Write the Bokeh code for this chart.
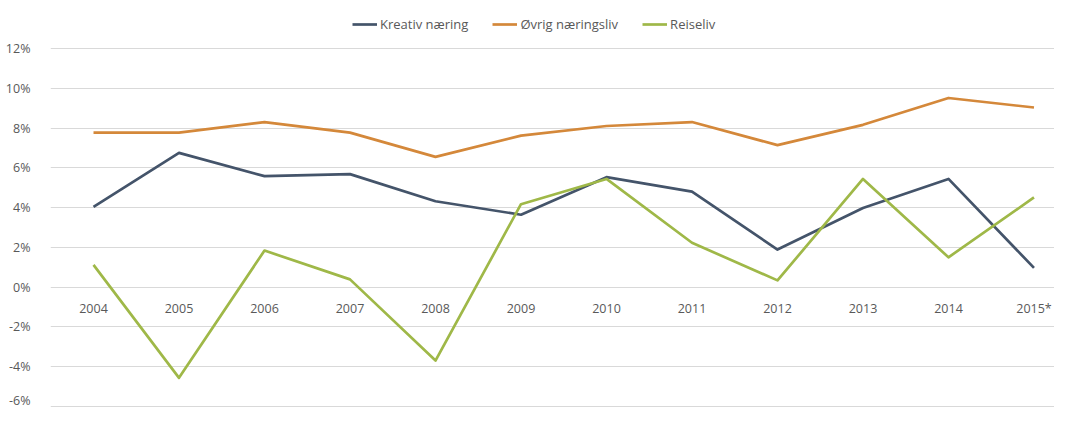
from bokeh.plotting import figure
from bokeh.models import Range1d, FixedTicker, PrintfTickFormatter, Legend, LegendItem, ColumnDataSource
from bokeh.core.properties import value
from bokeh.embed import file_html
from bokeh.resources import INLINE

years = ["2004", "2005", "2006", "2007", "2008", "2009", "2010", "2011", "2012", "2013", "2014", "2015*"]
kreativ = [4.03, 6.75, 5.58, 5.68, 4.32, 3.64, 5.53, 4.80, 1.89, 3.98, 5.44, 0.97]
ovrig = [7.77, 7.77, 8.30, 7.77, 6.55, 7.62, 8.10, 8.30, 7.14, 8.16, 9.51, 9.03]
reiseliv = [1.12, -4.56, 1.84, 0.39, -3.69, 4.17, 5.44, 2.23, 0.34, 5.44, 1.50, 4.51]
series_names = ["Kreativ næring", "Øvrig næringsliv", "Reiseliv"]
y_ticks = [-6, -4, -2, 0, 2, 4, 6, 8, 10, 12]

colors = ["#44546A", "#D4883A", "#9FB848"]
FONT = "Open Sans"
TXT = "#595959"
FS = "12.5px"

xs = list(range(len(years)))

p = figure(width=1054, height=408, output_backend="svg", toolbar_location=None,
           x_axis_location=None, min_border_left=50, min_border_right=0,
           min_border_top=0, min_border_bottom=1,
           x_range=Range1d(-0.503, 11.24), y_range=Range1d(-6.05, 14.41))
p.outline_line_color = None
p.xgrid.visible = False
p.ygrid.grid_line_color = "#D9D9D9"
p.ygrid.grid_line_width = 1
p.yaxis.ticker = FixedTicker(ticks=y_ticks)
p.yaxis.formatter = PrintfTickFormatter(format="%d%%")
p.yaxis.axis_line_color = None
p.yaxis.major_tick_line_color = None
p.yaxis.minor_tick_line_color = None
p.yaxis.major_label_text_font = FONT
p.yaxis.major_label_text_font_size = FS
p.yaxis.major_label_text_color = TXT
p.yaxis.major_label_standoff = 14

renderers = []
for data, c in zip([kreativ, ovrig, reiseliv], colors):
    r = p.line(xs, data, line_color=c, line_width=2.7, line_join="round")
    renderers.append(r)

src = ColumnDataSource(dict(x=xs, y=[0] * len(xs), t=years))
p.text(x="x", y="y", text="t", source=src, text_align="center", text_baseline="alphabetic",
       y_offset=21, text_font=value(FONT), text_font_size=FS, text_color=TXT)

legend = Legend(items=[LegendItem(label=n, renderers=[r]) for n, r in zip(series_names, renderers)],
                orientation="horizontal", location=(302, 373))
legend.label_text_font = FONT
legend.label_text_font_size = "13px"
legend.label_text_color = TXT
legend.glyph_width = 25
legend.glyph_height = 20
legend.label_height = 20
legend.label_standoff = 3
legend.spacing = 24
legend.border_line_color = None
legend.background_fill_alpha = 0
legend.padding = 4
legend.margin = 0
p.add_layout(legend, "center")

open("out.html", "w").write(file_html(p, INLINE))
